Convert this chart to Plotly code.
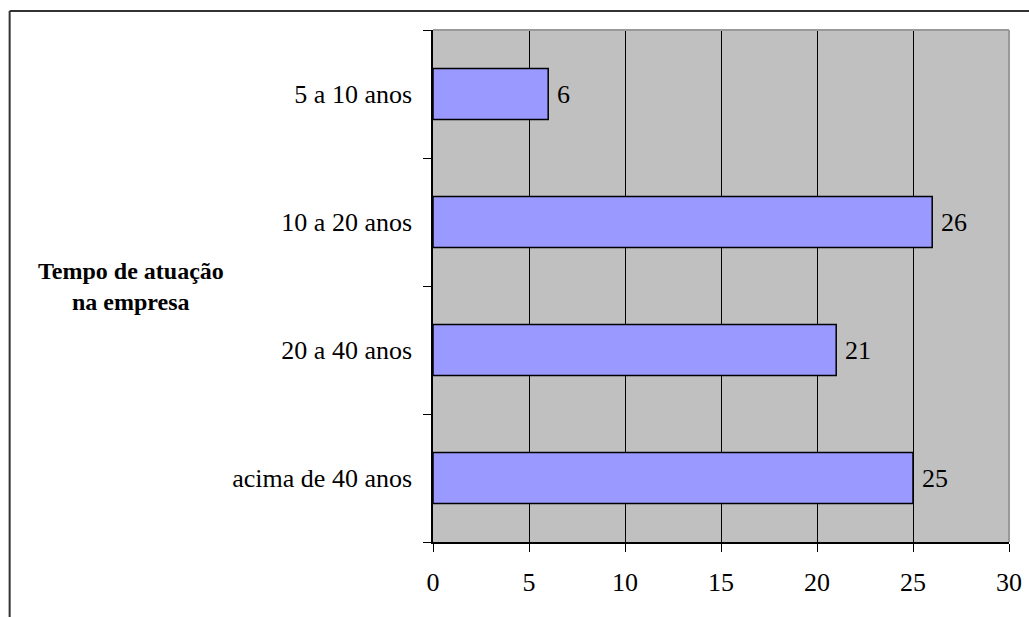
import plotly.graph_objects as go

categorias = ["5 a 10 anos", "10 a 20 anos", "20 a 40 anos", "acima de 40 anos"]
valores = [6, 26, 21, 25]
ticks_x = [0, 5, 10, 15, 20, 25, 30]

fonte = "Liberation Serif, Times New Roman, serif"
tam = 26

fig = go.Figure(
    go.Bar(
        x=valores,
        y=categorias,
        orientation="h",
        marker=dict(color="#9999FF", line=dict(color="#000000", width=1.5)),
        width=0.4,
    )
)

# value labels just past the end of each bar
rotulos = [
    dict(
        x=v, y=c, xref="x", yref="y",
        text=str(v), showarrow=False,
        xanchor="left", yanchor="middle", xshift=7,
        font=dict(family=fonte, size=tam, color="#000000"),
    )
    for c, v in zip(categorias, valores)
]

# axis title, two lines with tight leading
titulo = [
    dict(
        text="<b>Tempo de atuação</b>",
        xref="paper", yref="paper",
        x=(131 - 433) / 576, y=(542 - 271) / 512,
        xanchor="center", yanchor="middle", showarrow=False,
        font=dict(family=fonte, size=24, color="#000000"),
    ),
    dict(
        text="<b>na empresa</b>",
        xref="paper", yref="paper",
        x=(131 - 433) / 576, y=(542 - 302) / 512,
        xanchor="center", yanchor="middle", showarrow=False,
        font=dict(family=fonte, size=24, color="#000000"),
    ),
]

fig.update_layout(
    width=1029,
    height=617,
    margin=dict(l=433, r=20, t=30, b=75),
    paper_bgcolor="#FFFFFF",
    plot_bgcolor="#C0C0C0",
    showlegend=False,
    font=dict(family=fonte, size=tam, color="#000000"),
    xaxis=dict(
        range=[0, 30],
        tickvals=ticks_x,
        ticks="outside",
        ticklen=8,
        tickcolor="#000000",
        showgrid=True,
        gridcolor="#000000",
        gridwidth=1,
        showline=True,
        linecolor="#000000",
        linewidth=1.5,
        zeroline=False,
        automargin=False,
        ticklabelstandoff=8,
        tickfont=dict(family=fonte, size=tam),
    ),
    yaxis=dict(
        categoryorder="array",
        categoryarray=categorias[::-1],
        tickson="boundaries",
        ticks="outside",
        ticklen=8,
        tickcolor="#000000",
        showgrid=False,
        showline=True,
        linecolor="#000000",
        linewidth=1.5,
        automargin=False,
        ticklabelstandoff=14,
        tickfont=dict(family=fonte, size=tam),
    ),
    shapes=[
        # grey outline on the top and right of the plot area
        dict(type="line", xref="paper", yref="paper", x0=0, x1=1, y0=1, y1=1,
             line=dict(color="#999999", width=2)),
        dict(type="line", xref="paper", yref="paper", x0=1, x1=1, y0=0, y1=1,
             line=dict(color="#999999", width=2)),
        # outer chart frame (top and left edges)
        dict(type="line", xref="paper", yref="paper", x0=-0.735, x1=1.1, y0=1.037, y1=1.037,
             line=dict(color="#333333", width=2)),
        dict(type="line", xref="paper", yref="paper", x0=-0.735, x1=-0.735, y0=1.037, y1=-0.2,
             line=dict(color="#333333", width=2)),
    ],
    annotations=rotulos + titulo,
)

fig.write_html("out.html")
